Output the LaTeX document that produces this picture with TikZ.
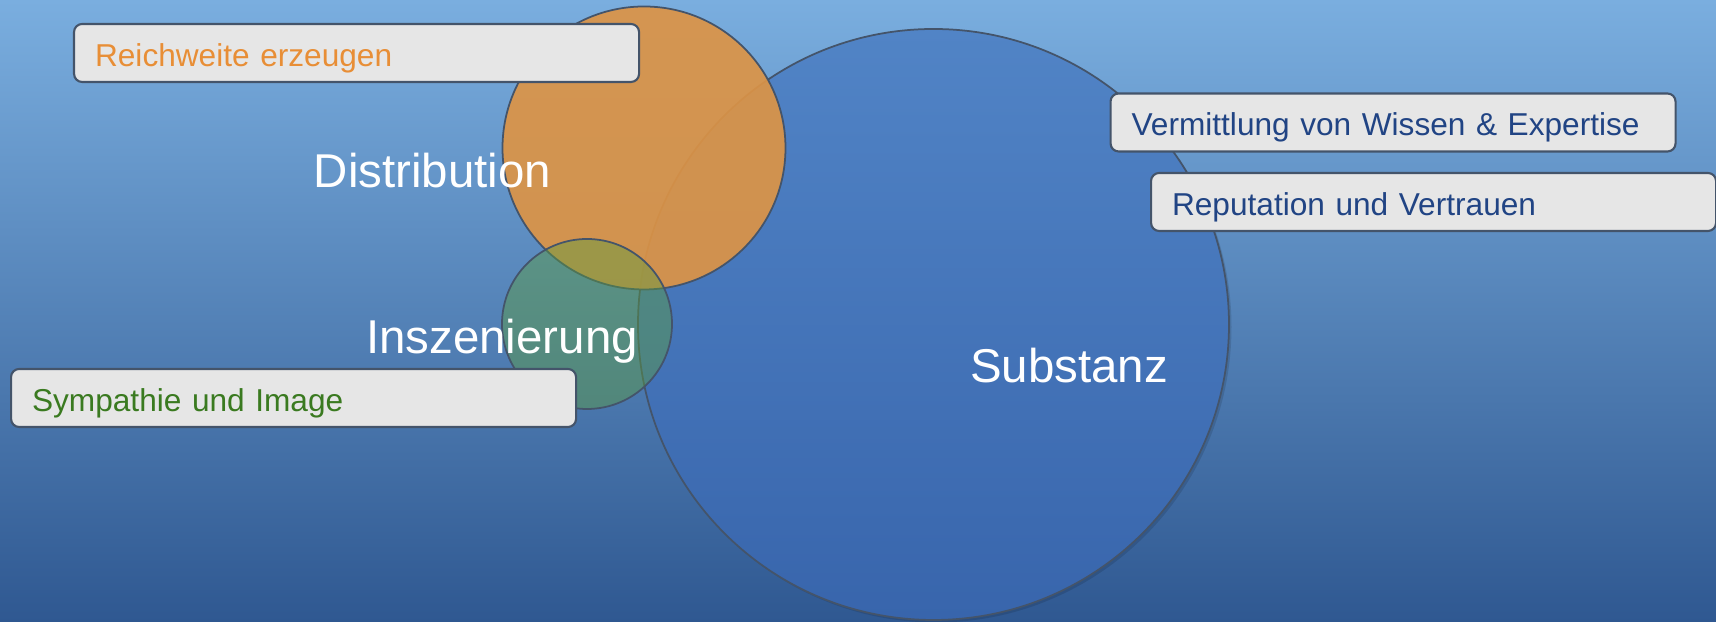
\documentclass[tikz,border=0pt]{standalone}
\usepackage{fontspec}
\setmainfont{Liberation Sans}
\definecolor{bgtop}{RGB}{122,174,223}
\definecolor{bgmid}{RGB}{90,154,212}
\definecolor{bgbot}{RGB}{47,88,145}
\definecolor{edge}{RGB}{68,84,106}
\definecolor{subtop}{RGB}{81,132,198}
\definecolor{subbot}{RGB}{56,101,172}
\definecolor{distfill}{RGB}{220,148,70}
\definecolor{inszfill}{RGB}{92,156,64}
\definecolor{tagfill}{RGB}{230,230,230}
\definecolor{orangetext}{RGB}{232,142,54}
\definecolor{bluetext}{RGB}{33,68,132}
\definecolor{greentext}{RGB}{58,122,32}
\begin{document}
\begin{tikzpicture}[
  ring/.style={draw=edge,line width=0.5pt},
  tag/.style={draw=edge,line width=0.6pt,fill=tagfill,rounded corners=2.3pt,
    anchor=west,minimum height=0.58cm,inner xsep=0.21cm,text width=5.23cm,
    align=left,text height=0.75em,text depth=0pt,
    font=\fontsize{9}{11}\selectfont},
  biglabel/.style={text=white,anchor=base,font=\fontsize{13.5}{16}\selectfont}]
\useasboundingbox (0,0) rectangle (17.16,-6.22);
\shade[top color=bgtop,middle color=bgmid,bottom color=bgbot] (0,0) rectangle (17.16,-6.22);
% Substanz
\fill[black,opacity=0.12] (9.36,-3.27) circle (2.955);
\shade[top color=subtop,bottom color=subbot] (9.335,-3.245) circle (2.955);
\draw[ring] (9.335,-3.245) circle (2.955);
% Distribution
\fill[distfill,opacity=0.92] (6.44,-1.48) circle (1.415);
\draw[ring] (6.44,-1.48) circle (1.415);
% Inszenierung
\fill[inszfill,opacity=0.45] (5.87,-3.24) circle (0.85);
\draw[ring] (5.87,-3.24) circle (0.85);
% labels
\node[biglabel] (dist) at (4.325,-1.88) {Distribution};
\node[biglabel] (insz) at (5.02,-3.54) {Inszenierung};
\node[biglabel] (subst) at (10.69,-3.83) {Substanz};
% tags
\node[tag,text=orangetext] (reach) at (0.73,-0.53) {Reichweite erzeugen};
\node[tag,text=greentext] (image) at (0.10,-3.98) {Sympathie und Image};
\node[tag,text=bluetext] (know) at (11.095,-1.225) {Vermittlung von Wissen \& Expertise};
\node[tag,text=bluetext] (trust) at (11.50,-2.02) {Reputation und Vertrauen};
\end{tikzpicture}
\end{document}
